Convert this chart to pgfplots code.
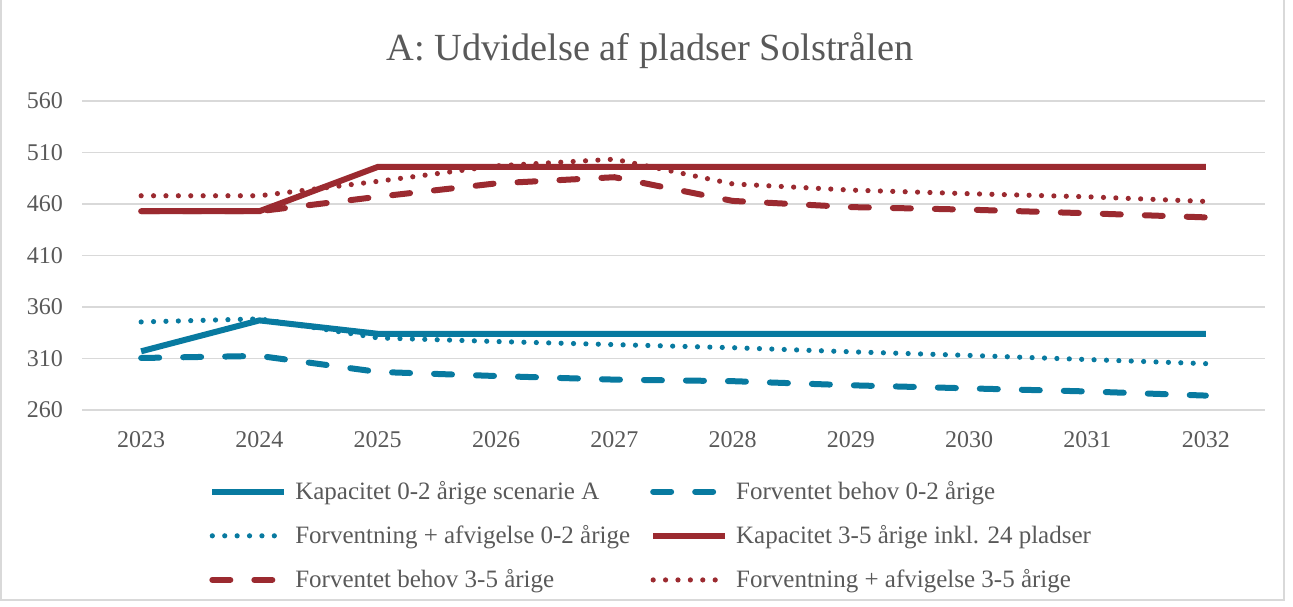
\documentclass[border=0pt]{standalone}
\usepackage{pgfplots}
\pgfplotsset{compat=1.18}
\usepackage{pgfplotstable}
\usepackage{fontspec}
\setmainfont{Liberation Serif}
\definecolor{cblue}{RGB}{8,122,160}
\definecolor{cred}{RGB}{155,42,48}
\definecolor{cgrid}{RGB}{217,217,217}
\definecolor{ctext}{RGB}{89,89,89}

\pgfplotstableread{
year K02 F02 D02 K35 F35 D35
2023 317 310.5 345.5 453 453 468
2024 347 312.5 348.5 453 453 468
2025 334 297 330 496 467 482
2026 334 293 326.5 496 480 497
2027 334 289.5 323.5 496 486 503.5
2028 334 288 320.5 496 463 479.5
2029 334 284 316.5 496 457 473.5
2030 334 281 313 496 454.5 470
2031 334 278 309 496 451 467
2032 334 274 305 496 447 462.5
}\datatable

\begin{document}
\begin{tikzpicture}[x=0.5pt,y=0.5pt]
\path[use as bounding box] (0,0) rectangle (1293,606);
\draw[cgrid, line width=0.8pt] (1,6) rectangle (1284,607);
\node[font=\fontsize{19.2}{23}\selectfont, text=ctext] at (650,555) {A: Udvidelse af pladser Solstrålen};
\begin{axis}[
  at={(41pt,98pt)}, anchor=south west,
  scale only axis,
  width=591.5pt, height=154.5pt,
  xmin=2022.5, xmax=2032.5,
  ymin=260, ymax=560,
  xtick={2023,...,2032},
  ytick={260,310,...,560},
  xticklabel style={/pgf/number format/1000 sep={}, font=\fontsize{12}{14}\selectfont, text=ctext, yshift=-7pt},
  yticklabel style={font=\fontsize{12}{14}\selectfont, text=ctext, xshift=-6pt},
  /pgf/number format/assume math mode=true,
  /pgf/number format/1000 sep={},
  major tick length=0pt,
  axis line style={draw=none},
  ymajorgrids,
  grid style={cgrid, line width=0.9pt},
  legend columns=2,
  legend cell align=left,
  legend style={at={(0.1073,-0.229)}, anchor=north west, draw=none, fill=none,
    font=\fontsize{12.5}{14}\selectfont, text=ctext,
    inner sep=0pt, row sep=11.5pt,
    nodes={inner sep=0pt},
    /tikz/every odd column/.append style={column sep=4pt},
    /tikz/every even column/.append style={column sep=10pt}},
  legend image code/.code={\draw[#1] (0pt,0pt) -- (36pt,0pt);},
  every axis plot/.append style={line width=3pt, line cap=round},
]
\addplot[cblue, solid, line cap=butt] table[x=year,y=K02]{\datatable};
\addlegendentry{Kapacitet 0-2 årige scenarie A}
\addplot[cblue, dash pattern=on 9pt off 12pt] table[x=year,y=F02]{\datatable};
\addlegendentry{Forventet behov 0-2 årige}
\addplot[cblue, line width=2.6pt, dash pattern=on 0pt off 6.2pt] table[x=year,y=D02]{\datatable};
\addlegendentry{Forventning + afvigelse 0-2 årige}
\addplot[cred, solid, line cap=butt] table[x=year,y=K35]{\datatable};
\addlegendentry{Kapacitet 3-5 årige inkl. 24 pladser}
\addplot[cred, dash pattern=on 9pt off 12pt] table[x=year,y=F35]{\datatable};
\addlegendentry{Forventet behov 3-5 årige}
\addplot[cred, line width=2.6pt, dash pattern=on 0pt off 6.2pt] table[x=year,y=D35]{\datatable};
\addlegendentry{Forventning + afvigelse 3-5 årige}
\end{axis}
\end{tikzpicture}
\end{document}
